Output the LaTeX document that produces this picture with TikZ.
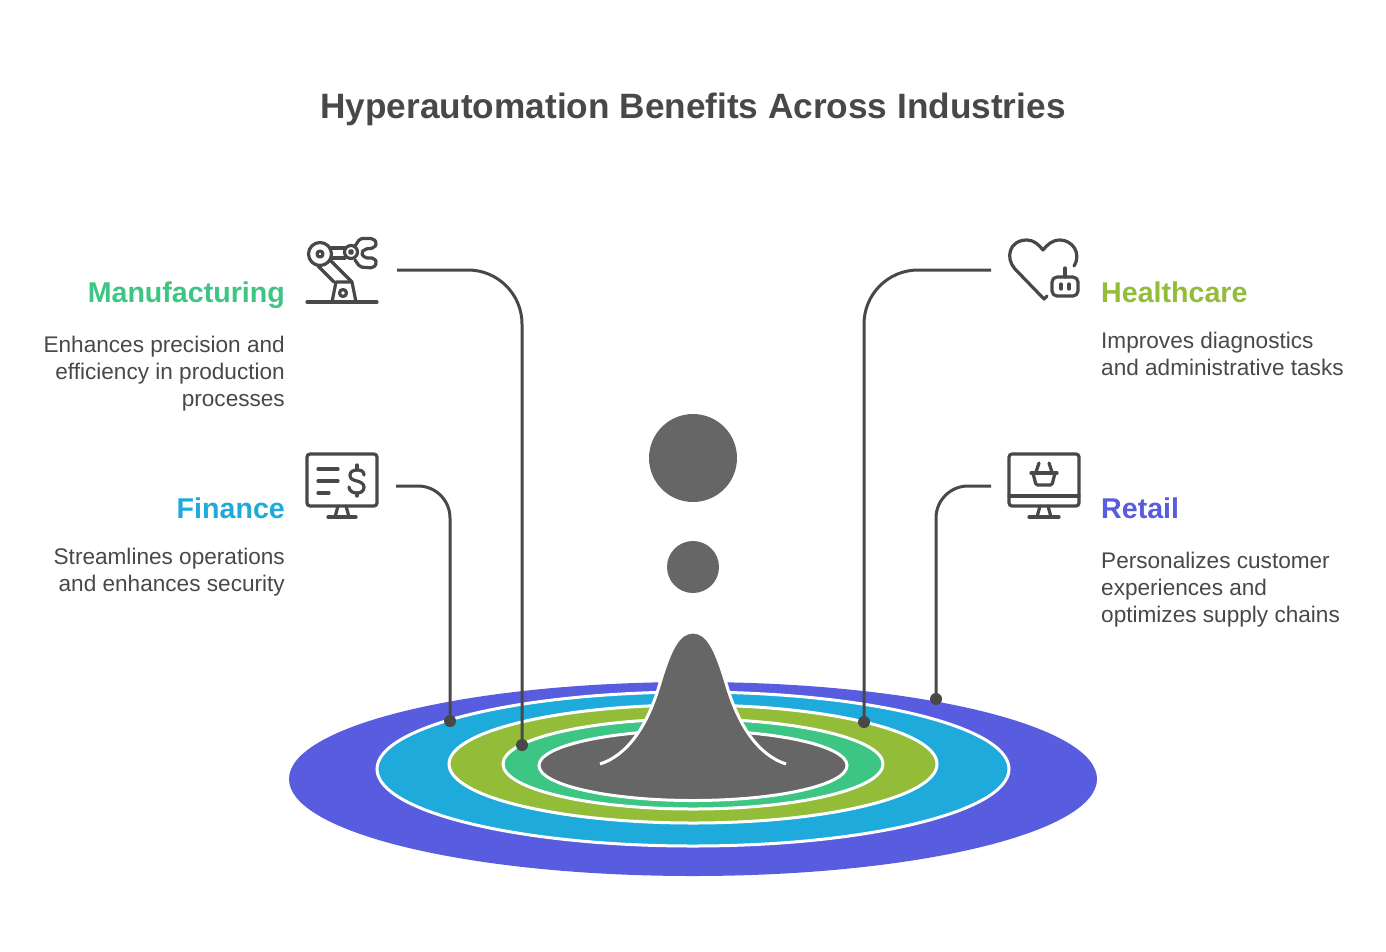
\documentclass[tikz,border=0pt]{standalone}
\usepackage{fontspec}
\setmainfont{Liberation Sans}
\usetikzlibrary{positioning}
\definecolor{inkgrey}{HTML}{484848}
\definecolor{hillgrey}{HTML}{666666}
\definecolor{retailblue}{HTML}{585CDF}
\definecolor{financeblue}{HTML}{1EAADB}
\definecolor{healthgreen}{HTML}{93BC39}
\definecolor{manufgreen}{HTML}{3CC583}
\tikzset{
  leader/.style={draw=inkgrey,line width=3pt},
  icon/.style={draw=inkgrey,line width=3.2pt,line cap=round,line join=round},
  ring/.style={draw=white,line width=3pt},
  dotnode/.style={circle,fill=inkgrey,inner sep=0pt,minimum size=12pt},
  headleft/.style={anchor=base east,inner sep=0pt,font=\bfseries\fontsize{28.6}{29}\selectfont},
  headright/.style={anchor=base west,inner sep=0pt,font=\bfseries\fontsize{28.6}{29}\selectfont},
  bodyleft/.style={anchor=north east,align=right,inner sep=0pt,text=inkgrey,font=\fontsize{22.6}{27}\selectfont},
  bodyright/.style={anchor=north west,align=left,inner sep=0pt,text=inkgrey,font=\fontsize{22.6}{27}\selectfont},
}
\begin{document}
\begin{tikzpicture}[x=1pt,y=-1pt]
  \useasboundingbox (0,0) rectangle (1386,951);
  \node[inner sep=0pt,text=inkgrey,font=\bfseries\fontsize{35.2}{36}\selectfont] (title) at (693,109) {Hyperautomation Benefits Across Industries};

  \fill[retailblue] (693,779) ellipse [x radius=404,y radius=97]; %Draw rings
  \filldraw[ring,fill=financeblue] (693,769) ellipse [x radius=316,y radius=77];
  \filldraw[ring,fill=healthgreen] (693,764) ellipse [x radius=244,y radius=59];
  \filldraw[ring,fill=manufgreen] (693,764) ellipse [x radius=190,y radius=45];
  \filldraw[ring,fill=hillgrey] (693,765.5) ellipse [x radius=154,y radius=35];
  \filldraw[ring,fill=hillgrey] (600,764) .. controls (628,755) and (648,725) .. (660,683)
    .. controls (670,650) and (678,632) .. (693,632)
    .. controls (708,632) and (716,650) .. (726,683)
    .. controls (738,725) and (758,755) .. (786,764); %Draw hill
  \fill[hillgrey] (693,458) circle (44);
  \fill[hillgrey] (693,567) circle (26);

  \coordinate (manufstart) at (397,270);
  \coordinate (financestart) at (396,486);
  \coordinate (healthstart) at (991,270);
  \coordinate (retailstart) at (991,486);
  \node[dotnode] (manufdot) at (522,745) {};
  \node[dotnode] (financedot) at (450,721) {};
  \node[dotnode] (healthdot) at (864,722) {};
  \node[dotnode] (retaildot) at (936,699) {};
  \draw[leader,rounded corners=54pt] (manufstart) -| (manufdot.center);
  \draw[leader,rounded corners=32pt] (financestart) -| (financedot.center);
  \draw[leader,rounded corners=54pt] (healthstart) -| (healthdot.center);
  \draw[leader,rounded corners=32pt] (retailstart) -| (retaildot.center);

  \node[headleft,text=manufgreen] (manufhead) at (285,302) {Manufacturing};
  \node[bodyleft] (manufbody) at (285,336) {Enhances precision and\\efficiency in production\\processes};
  \node[headleft,text=financeblue] (financehead) at (285,518) {Finance};
  \node[bodyleft] (financebody) at (285,548) {Streamlines operations\\and enhances security};
  \node[headright,text=healthgreen] (healthhead) at (1101,302) {Healthcare};
  \node[bodyright] (healthbody) at (1101,332) {Improves diagnostics\\and administrative tasks};
  \node[headright,text=retailblue] (retailhead) at (1101,518) {Retail};
  \node[bodyright] (retailbody) at (1101,552) {Personalizes customer\\experiences and\\optimizes supply chains};

  %robot arm icon
  \draw[icon] (307,302) -- (377,302);
  \draw[icon] (332,302) -- (336,282) -- (352,282) -- (356,302);
  \draw[icon] (343,293) circle (3.5);
  \draw[icon] (320,254) circle (11.5);
  \draw[icon] (320,254) circle (3);
  \draw[icon] (318,266) -- (334,282);
  \draw[icon] (331,261) -- (352,282);
  \draw[icon] (331,248) -- (345,248);
  \draw[icon] (332,258) -- (345,258);
  \draw[icon] (351,252) circle (6.5);
  \draw[icon] (351,252) circle (1.5);
  \draw[icon,rounded corners=2pt] (355,246) -- (360,238.5) -- (373,238.5) -- (377,243) -- (374,248) -- (365,249)
    -- (361,253) -- (365,258) -- (374,258) -- (377,263) -- (373,268) -- (360,267) -- (355,260);

  %finance monitor icon
  \draw[icon,rounded corners=3pt] (307,454) rectangle (377,506);
  \draw[icon] (338,506) -- (335,517);
  \draw[icon] (346,506) -- (349,517);
  \draw[icon] (328,517) -- (356,517);
  \draw[icon] (318,469) -- (338,469);
  \draw[icon] (318,481) -- (338,481);
  \draw[icon] (318,493) -- (329,493);
  \draw[icon] (364,475) .. controls (364,471) and (361,470) .. (357,470)
    .. controls (353,470) and (350,472) .. (350,475)
    .. controls (350,479) and (353,480) .. (357,481)
    .. controls (361,482) and (364,484) .. (364,487)
    .. controls (364,491) and (361,493) .. (357,493)
    .. controls (353,493) and (349,491) .. (349,487);
  \draw[icon] (357,465) -- (357,470);
  \draw[icon] (357,493) -- (357,496);

  %heart icon
  \draw[icon] (1047,296) -- (1044,299) -- (1015,269)
    .. controls (1005,258) and (1009,240) .. (1027,240)
    .. controls (1034,240) and (1039,245) .. (1043,250)
    .. controls (1047,245) and (1052,240) .. (1060,240)
    .. controls (1072,240) and (1082,253) .. (1074,266);
  \draw[icon,rounded corners=5pt] (1052,277) rectangle (1078,296);
  \draw[icon] (1065,268) -- (1065,277);
  \draw[icon] (1061,284) -- (1061,289);
  \draw[icon] (1069,284) -- (1069,289);

  %retail monitor icon
  \draw[icon,rounded corners=3pt] (1009,454) rectangle (1079,506);
  \draw[icon] (1009,496) -- (1079,496);
  \draw[icon] (1040,506) -- (1037,517);
  \draw[icon] (1048,506) -- (1051,517);
  \draw[icon] (1029,517) -- (1059,517);
  \draw[icon] (1031,473) -- (1057,473);
  \draw[icon,rounded corners=1.5pt] (1033,473) -- (1036,485) -- (1052,485) -- (1055,473);
  \draw[icon] (1039,463) -- (1036,472);
  \draw[icon] (1049,463) -- (1052,472);
\end{tikzpicture}
\end{document}
